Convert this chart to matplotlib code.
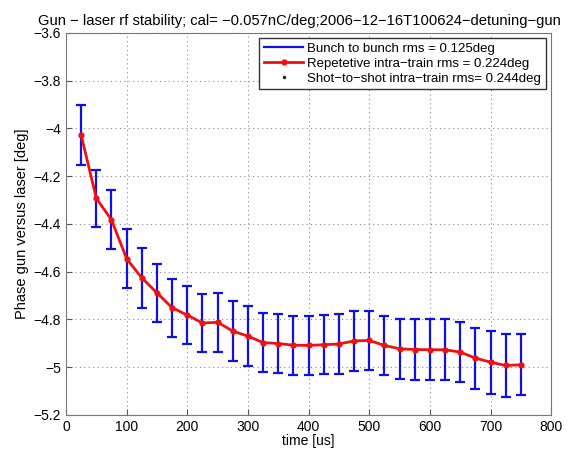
import matplotlib
matplotlib.use("Agg")
import matplotlib.pyplot as plt
import numpy as np

plt.rcParams['font.family'] = ['Liberation Sans', 'DejaVu Sans']

# time of each bunch [us]
time_us = np.arange(25, 751, 25)
# mean phase per bunch [deg]
phase = [-4.028, -4.293, -4.383, -4.546, -4.626, -4.689, -4.751, -4.782, -4.815, -4.812,
         -4.849, -4.870, -4.897, -4.901, -4.908, -4.909, -4.906, -4.903, -4.890, -4.888,
         -4.909, -4.923, -4.926, -4.927, -4.927, -4.937, -4.962, -4.979, -4.993, -4.990]
# bunch to bunch rms [deg]
phase_err = [0.125, 0.120, 0.124, 0.123, 0.126, 0.122, 0.122, 0.123, 0.123, 0.124,
             0.126, 0.127, 0.125, 0.124, 0.123, 0.122, 0.123, 0.124, 0.124, 0.124,
             0.125, 0.126, 0.126, 0.127, 0.127, 0.127, 0.128, 0.132, 0.130, 0.127]

labels = ["Bunch to bunch rms = 0.125deg",
          "Repetetive intra\u2212train rms = 0.224deg",
          "Shot\u2212to\u2212shot intra\u2212train rms= 0.244deg"]

fig = plt.figure(figsize=(5.79, 4.51), dpi=100)
ax = fig.add_axes([0.114, 0.080, 0.838, 0.847])

eb = ax.errorbar(time_us, phase, yerr=phase_err, fmt='none', ecolor='#1010e0',
                 elinewidth=1.6, capsize=3.5, capthick=1.6)
ln, = ax.plot(time_us, phase, '-', color='#ee1111', lw=2.0, marker='o', ms=3.5)
dots, = ax.plot([], [], '.', color='#222222', ms=3)

ax.set_xlim(0, 800)
ax.set_ylim(-5.2, -3.6)
ax.set_xticks(np.arange(0, 801, 100))
ax.set_yticks(np.arange(-5.2, -3.59, 0.2))
ax.set_yticklabels(["\u22125.2", "\u22125", "\u22124.8", "\u22124.6", "\u22124.4",
                    "\u22124.2", "\u22124", "\u22123.8", "\u22123.6"])
ax.tick_params(direction='in', labelsize=10, length=4, color='#555555')
ax.grid(True, linestyle=(0, (1, 3)), color='#888888', lw=0.8)
for s in ax.spines.values():
    s.set_color('#777777')

ax.set_xlabel("time [us]", fontsize=10, labelpad=0)
ax.set_ylabel("Phase gun versus laser [deg]", fontsize=10.5, labelpad=3)
ax.set_title("Gun \u2212 laser rf stability; cal= \u22120.057nC/deg;2006\u221212\u221216T100624\u2212detuning\u2212gun",
             fontsize=10.6, pad=6, x=0.482)

leg_line = matplotlib.lines.Line2D([], [], color='#1010e0', lw=1.6)
ax.legend([leg_line, ln, dots], labels, loc='upper right', fontsize=9.5,
          fancybox=False, edgecolor='#333333', framealpha=1, borderaxespad=0.4,
          handlelength=3.0, handletextpad=0.3, labelspacing=0.2, borderpad=0.35)

plt.savefig("out.png", dpi=100)
